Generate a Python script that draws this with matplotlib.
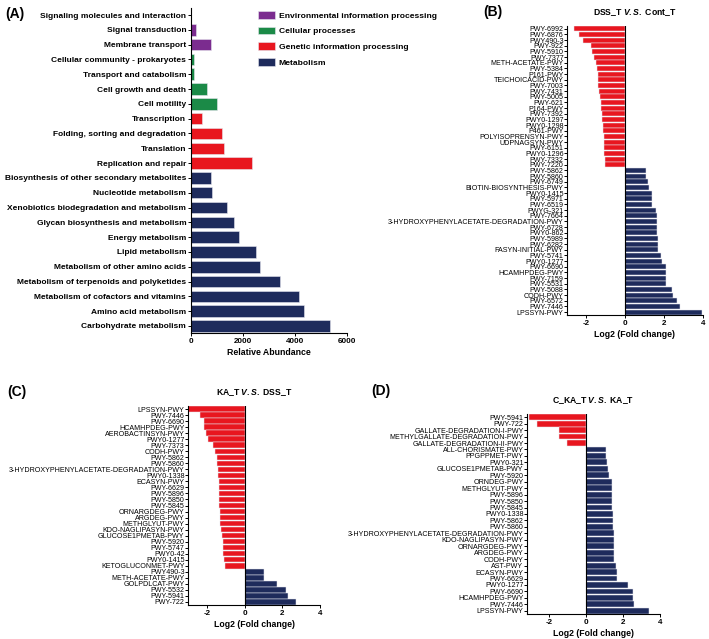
import numpy as np
import matplotlib
matplotlib.use("Agg")
import matplotlib.pyplot as plt
from matplotlib.patches import Patch

plt.rcParams['font.family'] = ['Liberation Sans', 'DejaVu Sans']
plt.rcParams['axes.unicode_minus'] = False
plt.rcParams['mathtext.fontset'] = 'custom'
plt.rcParams['mathtext.rm'] = 'Liberation Sans:bold'
plt.rcParams['mathtext.it'] = 'Liberation Sans:bold:italic'

# ---- datos panel A ----
a_names = ["Signaling molecules and interaction", "Signal transduction", "Membrane transport",
           "Cellular community - prokaryotes", "Transport and catabolism", "Cell growth and death",
           "Cell motility", "Transcription", "Folding, sorting and degradation", "Translation",
           "Replication and repair", "Biosynthesis of other secondary metabolites",
           "Nucleotide metabolism", "Xenobiotics biodegradation and metabolism",
           "Glycan biosynthesis and metabolism", "Energy metabolism", "Lipid metabolism",
           "Metabolism of other amino acids", "Metabolism of terpenoids and polyketides",
           "Metabolism of cofactors and vitamins", "Amino acid metabolism", "Carbohydrate metabolism"]
a_values = [10, 192, 782, 103, 128, 603, 987, 436, 1192, 1256, 2359, 756, 795, 1372,
            1667, 1846, 2500, 2667, 3410, 4141, 4333, 5359]
a_groups = ["env"] * 3 + ["cell"] * 4 + ["gen"] * 4 + ["met"] * 11
group_labels = {"env": "Environmental information processing", "cell": "Cellular processes",
                "gen": "Genetic information processing", "met": "Metabolism"}

# ---- datos panel B ----
b_names = ["PWY-6992", "PWY-6876", "PWY490-3", "PWY-922", "PWY-5910", "PWY-7377", "METH-ACETATE-PWY",
           "PWY-5384", "P161-PWY", "TEICHOICACID-PWY", "PWY-7003", "PWY-7431", "PWY-5005", "PWY-621",
           "P164-PWY", "PWY-7392", "PWY0-1297", "PWY0-1298", "P461-PWY", "POLYISOPRENSYN-PWY",
           "UDPNAGSYN-PWY", "PWY-6151", "PWY0-1296", "PWY-7332", "PWY-7220",
           "PWY-5862", "PWY-5860", "PWY-6749", "BIOTIN-BIOSYNTHESIS-PWY", "PWY0-1415", "PWY-5971",
           "PWY-6519", "PWYG-321", "PWY-7664", "3-HYDROXYPHENYLACETATE-DEGRADATION-PWY", "PWY-6728",
           "PWY0-862", "PWY-5989", "PWY-6282", "FASYN-INITIAL-PWY", "PWY-5741", "PWY0-1277", "PWY-6690",
           "HCAMHPDEG-PWY", "PWY-7159", "PWY-5531", "PWY-5088", "CODH-PWY", "PWY-6572", "PWY-7446",
           "LPSSYN-PWY"]
b_values = [-2.64, -2.39, -2.2, -1.77, -1.69, -1.62, -1.51, -1.46, -1.43, -1.39, -1.38, -1.33, -1.29,
            -1.26, -1.24, -1.22, -1.19, -1.17, -1.15, -1.12, -1.11, -1.09, -1.07, -1.06, -1.05,
            1.07, 1.07, 1.15, 1.24, 1.36, 1.36, 1.40, 1.59, 1.62, 1.65, 1.65, 1.65, 1.67, 1.67, 1.70,
            1.84, 1.88, 2.07, 2.07, 2.07, 2.09, 2.38, 2.48, 2.67, 2.84, 3.93]

# ---- datos panel C ----
c_names = ["LPSSYN-PWY", "PWY-7446", "PWY-6690", "HCAMHPDEG-PWY", "AEROBACTINSYN-PWY", "PWY0-1277",
           "PWY-7373", "CODH-PWY", "PWY-5862", "PWY-5860", "3-HYDROXYPHENYLACETATE-DEGRADATION-PWY",
           "PWY0-1338", "ECASYN-PWY", "PWY-6629", "PWY-5896", "PWY-5850", "PWY-5845", "ORNARGDEG-PWY",
           "ARGDEG-PWY", "METHGLYUT-PWY", "KDO-NAGLIPASYN-PWY", "GLUCOSE1PMETAB-PWY", "PWY-5920",
           "PWY-5747", "PWY0-42", "PWY0-1415", "KETOGLUCONMET-PWY", "PWY490-3", "METH-ACETATE-PWY",
           "GOLPDLCAT-PWY", "PWY-5532", "PWY-5941", "PWY-722"]
c_values = [-3.0, -2.35, -2.14, -2.14, -2.07, -1.96, -1.68, -1.59, -1.45, -1.45, -1.43, -1.40, -1.38,
            -1.36, -1.34, -1.34, -1.34, -1.32, -1.32, -1.29, -1.26, -1.22, -1.17, -1.15, -1.13, -1.10,
            -1.02, 1.04, 1.04, 1.73, 2.19, 2.32, 2.74]

# ---- datos panel D ----
d_names = ["PWY-5941", "PWY-722", "GALLATE-DEGRADATION-I-PWY", "METHYLGALLATE-DEGRADATION-PWY",
           "GALLATE-DEGRADATION-II-PWY", "ALL-CHORISMATE-PWY", "PPGPPMET-PWY", "PWY0-321",
           "GLUCOSE1PMETAB-PWY", "PWY-5920", "ORNDEG-PWY", "METHGLYUT-PWY", "PWY-5896", "PWY-5850",
           "PWY-5845", "PWY0-1338", "PWY-5862", "PWY-5860", "3-HYDROXYPHENYLACETATE-DEGRADATION-PWY",
           "KDO-NAGLIPASYN-PWY", "ORNARGDEG-PWY", "ARGDEG-PWY", "CODH-PWY", "AST-PWY", "ECASYN-PWY",
           "PWY-6629", "PWY0-1277", "PWY-6690", "HCAMHPDEG-PWY", "PWY-7446", "LPSSYN-PWY"]
d_values = [-3.1, -2.64, -1.46, -1.46, -1.04, 1.06, 1.06, 1.13, 1.18, 1.24, 1.40, 1.40, 1.40, 1.40,
            1.41, 1.43, 1.47, 1.47, 1.51, 1.52, 1.52, 1.52, 1.53, 1.60, 1.66, 1.68, 2.26, 2.53, 2.53,
            2.60, 3.40]

colores = {"env": "#7B2C8F", "cell": "#1B8A47", "gen": "#E8161F", "met": "#1E2B5C"}
RED = colores["gen"]
NAVY = colores["met"]

W, H = 709, 639
fig = plt.figure(figsize=(W / 100, H / 100), dpi=100)


def rect(l, t, r, b):
    return [l / W, 1 - b / H, (r - l) / W, (b - t) / H]


def estilo(ax):
    for s in ["top", "right"]:
        ax.spines[s].set_visible(False)
    ax.spines["left"].set_linewidth(0.8)
    ax.spines["bottom"].set_linewidth(0.8)
    ax.tick_params(axis="both", length=2.5, width=0.7, pad=1)


# Panel A
axA = fig.add_axes(rect(191, 7.6, 347, 333.4))
ya = np.arange(len(a_names))
axA.barh(ya, a_values, height=0.78, color=[colores[g] for g in a_groups],
         edgecolor="#e6e6ee", linewidth=0.4)
axA.set_ylim(len(a_names) - 0.5, -0.5)
axA.set_xlim(0, 6000)
axA.set_yticks(ya)
axA.set_yticklabels(a_names, fontsize=6.0, fontweight="bold")
axA.set_xticks([0, 2000, 4000, 6000])
axA.set_xticklabels(["0", "2000", "4000", "6000"], fontsize=5.8, fontweight="bold")
axA.set_xlabel("Relative Abundance", fontsize=6.3, fontweight="bold", labelpad=2)
estilo(axA)
handles = [Patch(facecolor=colores[k], edgecolor="#e6e6ee", linewidth=0.4) for k in group_labels]
leg = axA.legend(handles, list(group_labels.values()), loc="upper left",
                 bbox_to_anchor=(258 / W, 1 - 11 / H), bbox_transform=fig.transFigure,
                 frameon=False, fontsize=6.1, handlelength=2.0, handleheight=1.05,
                 handletextpad=0.45, labelspacing=0.8, borderpad=0, borderaxespad=0)
for t in leg.get_texts():
    t.set_fontweight("bold")


def panel_fc(box, names, values, xlim, title):
    ax = fig.add_axes(rect(*box))
    y = np.arange(len(names))
    cols = [RED if v < 0 else NAVY for v in values]
    ax.barh(y, values, height=0.9, color=cols, edgecolor="#e6e6ee", linewidth=0.35)
    ax.axvline(0, color="black", linewidth=0.8)
    ax.set_ylim(len(names) - 0.5, -0.5)
    ax.set_xlim(*xlim)
    ax.set_yticks(y)
    ax.set_yticklabels(names, fontsize=5.1)
    ax.set_xticks([-2, 0, 2, 4])
    ax.set_xticklabels(["-2", "0", "2", "4"], fontsize=5.8, fontweight="bold")
    ax.set_xlabel("Log2 (Fold change)", fontsize=6.3, fontweight="bold", labelpad=2)
    ax.set_title(title, fontsize=6.2, fontweight="bold", pad=8)
    estilo(ax)
    ax.tick_params(axis="y", length=2, pad=0.5)
    return ax


panel_fc((567, 26, 703, 315), b_names, b_values, (-3, 4), r"DSS_T $\mathit{V.S.}$ Cont_T")
panel_fc((188, 406, 320, 605), c_names, c_values, (-3, 4), r"KA_T $\mathit{V.S.}$ DSS_T")
panel_fc((527, 414, 660, 614), d_names, d_values, (-3.2, 4), r"C_KA_T $\mathit{V.S.}$ KA_T")

for lab, x, y in [("(A)", 5, 14), ("(B)", 483, 12), ("(C)", 7, 392), ("(D)", 371, 391)]:
    fig.text(x / W, 1 - y / H, lab, fontsize=10, fontweight="bold", ha="left", va="center")

fig.savefig("out.png", dpi=100)
